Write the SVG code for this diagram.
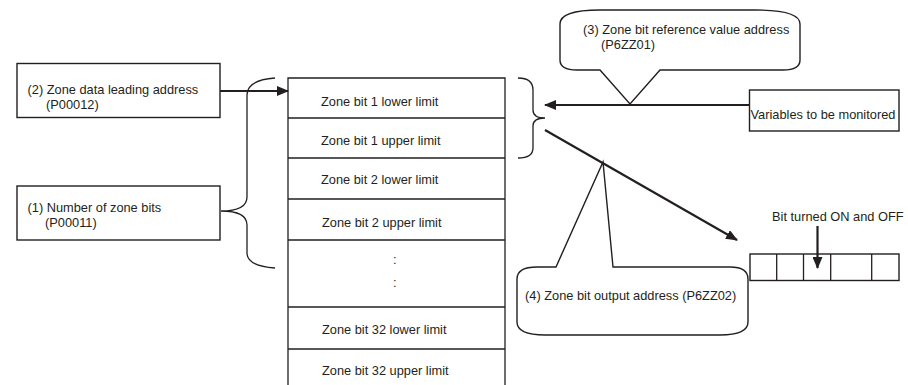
<svg xmlns="http://www.w3.org/2000/svg" width="908" height="385" viewBox="0 0 908 385">
<style>
text{font-family:"Liberation Sans",Arial,sans-serif;font-size:12.8px;fill:#231f20}
.box{fill:#fff;stroke:#231f20;stroke-width:1.4}
.ln{fill:none;stroke:#231f20;stroke-width:1.3}
.arr{fill:none;stroke:#231f20;stroke-width:2.2}
</style>
<defs>
<marker id="ah" markerWidth="12" markerHeight="10" refX="11" refY="5" orient="auto" markerUnits="userSpaceOnUse">
<path d="M0,0 L12,5 L0,10 Z" fill="#231f20"/>
</marker>
</defs>
<rect width="908" height="385" fill="#fff"/>
<g id="table">
<path class="ln" d="M288,385 V78 H505 V385"/>
<path class="ln" d="M288,118 H505 M288,158 H505 M288,199 H505 M288,240 H505 M288,307 H505 M288,349 H505"/>
<text x="321" y="106">Zone bit 1 lower limit</text>
<text x="321" y="144.5">Zone bit 1 upper limit</text>
<text x="321" y="183.5">Zone bit 2 lower limit</text>
<text x="322" y="226.5">Zone bit 2 upper limit</text>
<text x="393" y="264">:</text>
<text x="393" y="287">:</text>
<text x="322" y="334">Zone bit 32 lower limit</text>
<text x="322" y="375">Zone bit 32 upper limit</text>
</g>
<g id="node2">
<rect class="box" x="17" y="63.5" width="203" height="54"/>
<text x="27.5" y="94">(2) Zone data leading address</text>
<text x="46" y="109">(P00012)</text>
</g>
<g id="node1">
<rect class="box" x="17" y="186" width="203" height="54"/>
<text x="27.5" y="212">(1) Number of zone bits</text>
<text x="45" y="227">(P00011)</text>
</g>
<g id="braceL">
<path class="ln" d="M275,78 Q247,80 247,95 V197 Q247,211 221,211 Q247,211 247,225 V253 Q247,266 275,268"/>
</g>
<g id="braceR">
<path class="ln" d="M518,78 Q533,78 533,90 V110 Q533,118 545,118 Q533,118 533,126 V148 Q533,158 518,158"/>
</g>
<g id="node3">
<path class="box" d="M600,10 H755 Q800,10 800,24 V60 Q800,70 783,70 H660 L630,104 L600,70 H577 Q560,70 560,60 V24 Q560,10 600,10 Z"/>
<text x="583" y="34">(3) Zone bit reference value address</text>
<text x="601" y="49">(P6ZZ01)</text>
</g>
<g id="variables">
<rect class="box" x="749.5" y="90" width="149.5" height="41"/>
<text x="750.5" y="119">Variables to be monitored</text>
</g>
<g id="node4">
<path class="box" d="M603,162 L613,267 H730 Q748,267 748,279 V322 Q748,335 720,335 H545 Q517,335 517,322 V279 Q517,267 537,267 H556 Z"/>
<text x="525" y="300">(4) Zone bit output address (P6ZZ02)</text>
</g>
<g id="register">
<rect class="box" x="750" y="254" width="149" height="26.5"/>
<path class="ln" d="M776.7,254 V280.5 M803.5,254 V280.5 M830.7,254 V280.5 M871.7,254 V280.5"/>
<text x="772" y="221">Bit turned ON and OFF</text>
</g>
<g id="connectors">
<line class="arr" x1="220" y1="91" x2="288" y2="91" marker-end="url(#ah)"/>
<line class="arr" x1="749.5" y1="105" x2="545" y2="105" marker-end="url(#ah)"/>
<line class="arr" x1="545" y1="130" x2="737" y2="240" marker-end="url(#ah)"/>
<line class="arr" x1="817.5" y1="226" x2="817.5" y2="268" marker-end="url(#ah)"/>
</g>
</svg>
